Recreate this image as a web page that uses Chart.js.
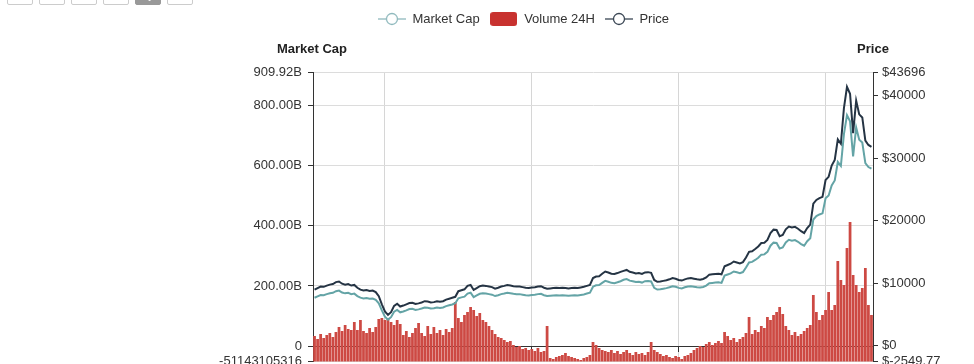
<!DOCTYPE html>
<html lang="en">
<head>
    <meta charset="UTF-8">
    <title>Market Cap / Volume / Price</title>
    <script src="https://cdn.jsdelivr.net/npm/chart.js"></script>
    <style>
        html, body { margin: 0; padding: 0; background: #fff; overflow: hidden; }
        .ranges { position: absolute; top: -16px; left: 7px; z-index: 2; display: flex; gap: 6px; }
        .ranges button {
            width: 26px; height: 21px; padding: 0; border: 1px solid #ccc; border-radius: 2px;
            background: #fff; color: #555; font: 11px 'Liberation Sans', Arial, sans-serif;
        }
        .ranges button.on { background: #999; border-color: #999; color: #fff; }
        #wrap { position: absolute; left: 0; top: 0; width: 974px; height: 400px; }
    </style>
</head>
<body>

<div class="ranges">
    <button>1d</button><button>7d</button><button>1m</button><button>3m</button><button class="on">1y</button><button>all</button>
</div>
<div id="wrap"><canvas id="myChart"></canvas></div>

<script>
    // one point every two days
    const labels = [
        '2020-01-26','2020-01-28','2020-01-30',
        '2020-02-01','2020-02-03','2020-02-05','2020-02-07','2020-02-09','2020-02-11','2020-02-13','2020-02-15','2020-02-17','2020-02-19','2020-02-21','2020-02-23','2020-02-25','2020-02-27','2020-02-29',
        '2020-03-02','2020-03-04','2020-03-06','2020-03-08','2020-03-10','2020-03-12','2020-03-14','2020-03-16','2020-03-18','2020-03-20','2020-03-22','2020-03-24','2020-03-26','2020-03-28','2020-03-30',
        '2020-04-01','2020-04-03','2020-04-05','2020-04-07','2020-04-09','2020-04-11','2020-04-13','2020-04-15','2020-04-17','2020-04-19','2020-04-21','2020-04-23','2020-04-25','2020-04-27','2020-04-29',
        '2020-05-01','2020-05-03','2020-05-05','2020-05-07','2020-05-09','2020-05-11','2020-05-13','2020-05-15','2020-05-17','2020-05-19','2020-05-21','2020-05-23','2020-05-25','2020-05-27','2020-05-29','2020-05-31',
        '2020-06-02','2020-06-04','2020-06-06','2020-06-08','2020-06-10','2020-06-12','2020-06-14','2020-06-16','2020-06-18','2020-06-20','2020-06-22','2020-06-24','2020-06-26','2020-06-28','2020-06-30',
        '2020-07-02','2020-07-04','2020-07-06','2020-07-08','2020-07-10','2020-07-12','2020-07-14','2020-07-16','2020-07-18','2020-07-20','2020-07-22','2020-07-24','2020-07-26','2020-07-28','2020-07-30',
        '2020-08-01','2020-08-03','2020-08-05','2020-08-07','2020-08-09','2020-08-11','2020-08-13','2020-08-15','2020-08-17','2020-08-19','2020-08-21','2020-08-23','2020-08-25','2020-08-27','2020-08-29','2020-08-31',
        '2020-09-02','2020-09-04','2020-09-06','2020-09-08','2020-09-10','2020-09-12','2020-09-14','2020-09-16','2020-09-18','2020-09-20','2020-09-22','2020-09-24','2020-09-26','2020-09-28','2020-09-30',
        '2020-10-02','2020-10-04','2020-10-06','2020-10-08','2020-10-10','2020-10-12','2020-10-14','2020-10-16','2020-10-18','2020-10-20','2020-10-22','2020-10-24','2020-10-26','2020-10-28','2020-10-30',
        '2020-11-01','2020-11-03','2020-11-05','2020-11-07','2020-11-09','2020-11-11','2020-11-13','2020-11-15','2020-11-17','2020-11-19','2020-11-21','2020-11-23','2020-11-25','2020-11-27','2020-11-29',
        '2020-12-01','2020-12-03','2020-12-05','2020-12-07','2020-12-09','2020-12-11','2020-12-13','2020-12-15','2020-12-17','2020-12-19','2020-12-21','2020-12-23','2020-12-25','2020-12-27','2020-12-29','2020-12-31',
        '2021-01-02','2021-01-04','2021-01-06','2021-01-08','2021-01-10','2021-01-12','2021-01-14','2021-01-16','2021-01-18','2021-01-20','2021-01-22','2021-01-24'
    ];

    // billions of USD
    const marketCap = [
        160.9, 165.6, 170.1, 169.2, 172.8, 175.5, 177.3, 182.7, 184.5, 178.2,
        175.5, 177.3, 172.8, 174.6, 166.5, 161.1, 158.4, 160.2, 157.5, 158.4,
        153.9, 142.2, 118.8, 98.1, 88.2, 96.3, 114.3, 120.6, 112.5, 115.2,
        118.8, 123.1, 124.0, 120.4, 122.2, 124.9, 128.5, 127.6, 124.9, 125.8,
        128.5, 126.7, 128.5, 133.0, 135.8, 138.5, 142.7, 159.2, 162.0, 164.7,
        174.8, 177.5, 162.9, 168.4, 173.9, 175.7, 174.8, 172.9, 171.1, 166.5,
        169.3, 172.9, 174.8, 177.5, 175.7, 173.9, 172.9, 172.9, 171.1, 169.3,
        168.4, 170.2, 171.1, 172.9, 173.9, 169.3, 166.5, 167.4, 168.4, 169.3,
        168.4, 169.3, 168.4, 167.4, 168.4, 169.3, 168.4, 170.2, 172.0, 174.8,
        177.5, 197.6, 202.2, 203.1, 210.5, 216.9, 214.1, 210.5, 209.5, 212.3,
        215.9, 220.5, 223.2, 217.7, 215.9, 213.1, 214.0, 211.3, 215.9, 216.8,
        214.9, 193.7, 188.2, 189.1, 191.0, 192.8, 195.6, 199.3, 197.4, 193.7,
        191.9, 195.6, 198.3, 199.3, 197.4, 195.6, 194.6, 196.5, 201.1, 209.4,
        210.3, 211.3, 212.2, 210.3, 234.3, 238.0, 241.7, 248.2, 245.4, 242.6,
        246.3, 261.6, 278.3, 280.1, 286.6, 294.0, 304.2, 305.1, 313.5, 333.9,
        344.1, 343.2, 324.6, 328.3, 345.0, 353.4, 350.6, 352.5, 346.9, 339.5,
        333.9, 348.7, 358.9, 421.1, 432.2, 437.8, 441.5, 491.6, 500.9, 534.2,
        550.9, 612.2, 599.2, 704.9, 768.0, 747.6, 630.7, 727.2, 686.4, 677.1,
        608.4, 595.5, 589.9
    ];

    // billions of USD
    const volume24h = [
        34.8, 32.1, 36.6, 33.0, 35.7, 37.4, 33.9, 38.3, 42.8, 39.2,
        44.6, 41.0, 40.1, 47.3, 40.1, 49.1, 39.2, 37.4, 41.9, 38.3,
        42.8, 49.9, 50.8, 49.1, 50.8, 47.3, 44.6, 49.1, 45.5, 35.7,
        39.2, 33.9, 37.4, 41.9, 46.4, 37.4, 34.8, 43.7, 36.6, 42.8,
        37.4, 40.1, 35.7, 41.0, 38.3, 41.9, 65.1, 50.8, 47.3, 53.5,
        56.2, 60.7, 58.0, 52.6, 55.3, 49.1, 47.3, 43.7, 40.1, 36.6,
        33.9, 33.0, 31.2, 29.4, 30.3, 26.7, 24.9, 25.8, 23.2, 24.1,
        22.3, 23.2, 21.4, 24.1, 20.5, 21.4, 43.7, 15.1, 14.2, 16.0,
        16.9, 17.8, 19.6, 16.9, 16.0, 15.1, 14.2, 13.3, 15.1, 16.0,
        17.8, 29.4, 26.7, 24.1, 22.3, 21.4, 20.5, 22.3, 19.6, 21.4,
        18.7, 20.5, 22.3, 19.6, 17.8, 20.5, 18.7, 19.6, 17.8, 20.5,
        29.4, 22.3, 20.5, 18.7, 16.9, 17.8, 16.0, 15.1, 16.9, 16.0,
        14.2, 16.9, 17.8, 19.6, 22.3, 24.1, 25.8, 24.9, 27.6, 29.4,
        26.7, 28.5, 30.3, 28.5, 38.3, 34.8, 31.2, 33.0, 29.4, 32.1,
        33.9, 37.4, 51.7, 36.6, 40.1, 38.3, 43.7, 41.9, 51.7, 49.1,
        53.5, 56.2, 60.7, 54.4, 43.7, 40.1, 35.7, 38.3, 34.8, 36.6,
        39.2, 41.9, 44.6, 71.4, 56.2, 49.1, 53.5, 58.0, 74.1, 58.0,
        62.4, 101.7, 84.8, 80.3, 113.3, 136.6, 89.2, 80.3, 74.1, 77.6,
        95.5, 62.4, 53.5
    ];

    // USD
    const price = [
        8940, 9200, 9450, 9400, 9600, 9750, 9850, 10150, 10250, 9900,
        9750, 9850, 9600, 9700, 9250, 8950, 8800, 8900, 8750, 8800,
        8550, 7900, 6600, 5450, 4900, 5350, 6350, 6700, 6250, 6400,
        6600, 6800, 6850, 6650, 6750, 6900, 7100, 7050, 6900, 6950,
        7100, 7000, 7100, 7350, 7500, 7650, 7800, 8700, 8850, 9000,
        9550, 9700, 8900, 9200, 9500, 9600, 9550, 9450, 9350, 9100,
        9250, 9450, 9550, 9700, 9600, 9500, 9450, 9450, 9350, 9250,
        9200, 9300, 9350, 9450, 9500, 9250, 9100, 9150, 9200, 9250,
        9200, 9250, 9200, 9150, 9200, 9250, 9200, 9300, 9400, 9550,
        9700, 10800, 11050, 11100, 11500, 11850, 11700, 11500, 11450, 11600,
        11800, 11950, 12100, 11800, 11700, 11550, 11600, 11450, 11700, 11750,
        11650, 10500, 10200, 10250, 10350, 10450, 10600, 10800, 10700, 10500,
        10400, 10600, 10750, 10800, 10700, 10600, 10550, 10650, 10900, 11350,
        11400, 11450, 11500, 11400, 12700, 12900, 13100, 13450, 13300, 13150,
        13350, 14100, 15000, 15100, 15450, 15850, 16400, 16450, 16900, 18000,
        18550, 18500, 17500, 17700, 18600, 19050, 18900, 19000, 18700, 18300,
        18000, 18800, 19350, 22700, 23300, 23600, 23800, 26500, 27000, 28800,
        29700, 33000, 32300, 38000, 41400, 40300, 34000, 39200, 37000, 36500,
        32800, 32100, 31800
    ];

    const capTicks = [-51143105316, 0, 200000000000, 400000000000, 600000000000, 800000000000, 909920000000];
    const priceTicks = [-2549.77, 0, 10000, 20000, 30000, 40000, 43696];
    const gridDates = ['2020-03-12', '2020-06-16', '2020-09-20', '2020-12-25'];

    const FONT = "'Liberation Sans', Arial, Helvetica, sans-serif";
    const CAP_COLOR = '#64a4a6';
    const PRICE_COLOR = '#253444';
    const VOL_COLOR = '#cd4943';

    function lineIcon(color) {
        const c = document.createElement('canvas');
        c.width = 28;
        c.height = 14;
        const g = c.getContext('2d');
        g.strokeStyle = color;
        g.lineWidth = 1.3;
        g.beginPath();
        g.moveTo(0, 7);
        g.lineTo(28, 7);
        g.stroke();
        g.beginPath();
        g.arc(14, 7, 5.5, 0, Math.PI * 2);
        g.fillStyle = '#fff';
        g.fill();
        g.stroke();
        return c;
    }

    function boxIcon(color) {
        const c = document.createElement('canvas');
        c.width = 27;
        c.height = 14;
        const g = c.getContext('2d');
        g.fillStyle = color;
        g.beginPath();
        g.roundRect(0, 0, 27, 14, 3);
        g.fill();
        return c;
    }

    const icons = [lineIcon('#8fb9bd'), boxIcon('#c8322f'), lineIcon('#3a4654')];
    const gridIdx = gridDates.map(d => labels.indexOf(d));

    // axis captions above the two y axes
    const axisCaptions = {
        id: 'axisCaptions',
        afterDraw(chart) {
            const {ctx, chartArea, scales} = chart;
            ctx.save();
            ctx.font = 'bold 13px ' + FONT;
            ctx.fillStyle = '#222';
            ctx.textAlign = 'center';
            ctx.textBaseline = 'middle';
            ctx.fillText('Market Cap', scales.y.right - 1, chartArea.top - 23);
            ctx.fillText('Price', scales.y1.left, chartArea.top - 23);
            ctx.restore();
        }
    };

    function init() {
        Chart.defaults.font.family = FONT;
        Chart.defaults.font.size = 13;
        Chart.defaults.color = '#333';

        let ctx = document.getElementById('myChart').getContext('2d');
        new Chart(ctx, {
            type: 'bar',
            data: {
                labels: labels,
                datasets: [
                    {
                        type: 'line',
                        label: 'Market Cap',
                        data: marketCap.map(v => v * 1e9),
                        yAxisID: 'y',
                        borderColor: CAP_COLOR,
                        borderWidth: 2,
                        pointRadius: 0,
                        tension: 0,
                        order: 0,
                    },
                    {
                        label: 'Volume 24H',
                        data: volume24h,
                        yAxisID: 'yVol',
                        backgroundColor: VOL_COLOR,
                        barPercentage: 0.9,
                        categoryPercentage: 1,
                        order: 2,
                    },
                    {
                        type: 'line',
                        label: 'Price',
                        data: price,
                        yAxisID: 'y1',
                        borderColor: PRICE_COLOR,
                        borderWidth: 2,
                        pointRadius: 0,
                        tension: 0,
                        order: 1,
                    },
                ],
            },
            options: {
                responsive: true,
                maintainAspectRatio: false,
                animation: false,
                events: [],
                layout: {
                    padding: {left: 73, right: 0, top: 2.5, bottom: 38.5}
                },
                plugins: {
                    legend: {
                        position: 'top',
                        labels: {
                            usePointStyle: true,
                            pointStyleWidth: 28,
                            padding: 10,
                            color: '#333',
                            font: {size: 13},
                            sort: (a, b) => a.datasetIndex - b.datasetIndex,
                            generateLabels: chart => {
                                const items = Chart.defaults.plugins.legend.labels.generateLabels(chart);
                                items.forEach(it => { it.pointStyle = icons[it.datasetIndex]; });
                                return items;
                            },
                        },
                    },
                    // empty spacer between legend and plot, room for the axis captions
                    title: {
                        display: true,
                        text: '',
                        weight: 500,
                        font: {size: 10, lineHeight: 1},
                        padding: {top: 27, bottom: 0},
                    },
                    tooltip: {enabled: false},
                },
                scales: {
                    x: {
                        offset: true,
                        grid: {
                            offset: false,
                            drawTicks: false,
                            color: c => gridIdx.includes(c.index) ? '#d6d6d6' : 'rgba(0,0,0,0)',
                        },
                        border: {display: false},
                        ticks: {display: false},
                    },
                    x2: {
                        type: 'category',
                        offset: true,
                        position: {y: 0},
                        z: 1,
                        grid: {
                            offset: false,
                            drawOnChartArea: false,
                            tickLength: 5,
                            tickColor: c => gridIdx.includes(c.index) ? '#333' : 'rgba(0,0,0,0)',
                        },
                        border: {color: '#333', width: 1},
                        ticks: {display: false},
                    },
                    y: {
                        type: 'linear',
                        position: 'left',
                        min: capTicks[0],
                        max: capTicks[capTicks.length - 1],
                        afterBuildTicks: s => { s.ticks = capTicks.map(v => ({value: v})); },
                        afterFit: s => { s.width = 240; },
                        grid: {
                            color: '#dcdcdc',
                            tickColor: '#333',
                            tickLength: 5,
                        },
                        border: {color: '#333'},
                        ticks: {
                            padding: 6,
                            color: '#333',
                            callback: v => {
                                if (v === capTicks[0]) return String(v);
                                if (v === 0) return '0';
                                return (v / 1e9).toFixed(2) + 'B';
                            },
                        },
                    },
                    y1: {
                        type: 'linear',
                        position: 'right',
                        min: priceTicks[0],
                        max: priceTicks[priceTicks.length - 1],
                        afterBuildTicks: s => { s.ticks = priceTicks.map(v => ({value: v})); },
                        afterFit: s => { s.width = 101; },
                        grid: {
                            drawOnChartArea: false,
                            tickColor: '#333',
                            tickLength: 5,
                        },
                        border: {color: '#333'},
                        ticks: {
                            padding: 4,
                            color: '#333',
                            callback: v => '$' + v,
                        },
                    },
                    yVol: {
                        type: 'linear',
                        display: false,
                        min: 12,
                        max: 270,
                    },
                },
            },
            plugins: [axisCaptions],
        });
    }

    document.addEventListener('DOMContentLoaded', init);
</script>

</body>
</html>
